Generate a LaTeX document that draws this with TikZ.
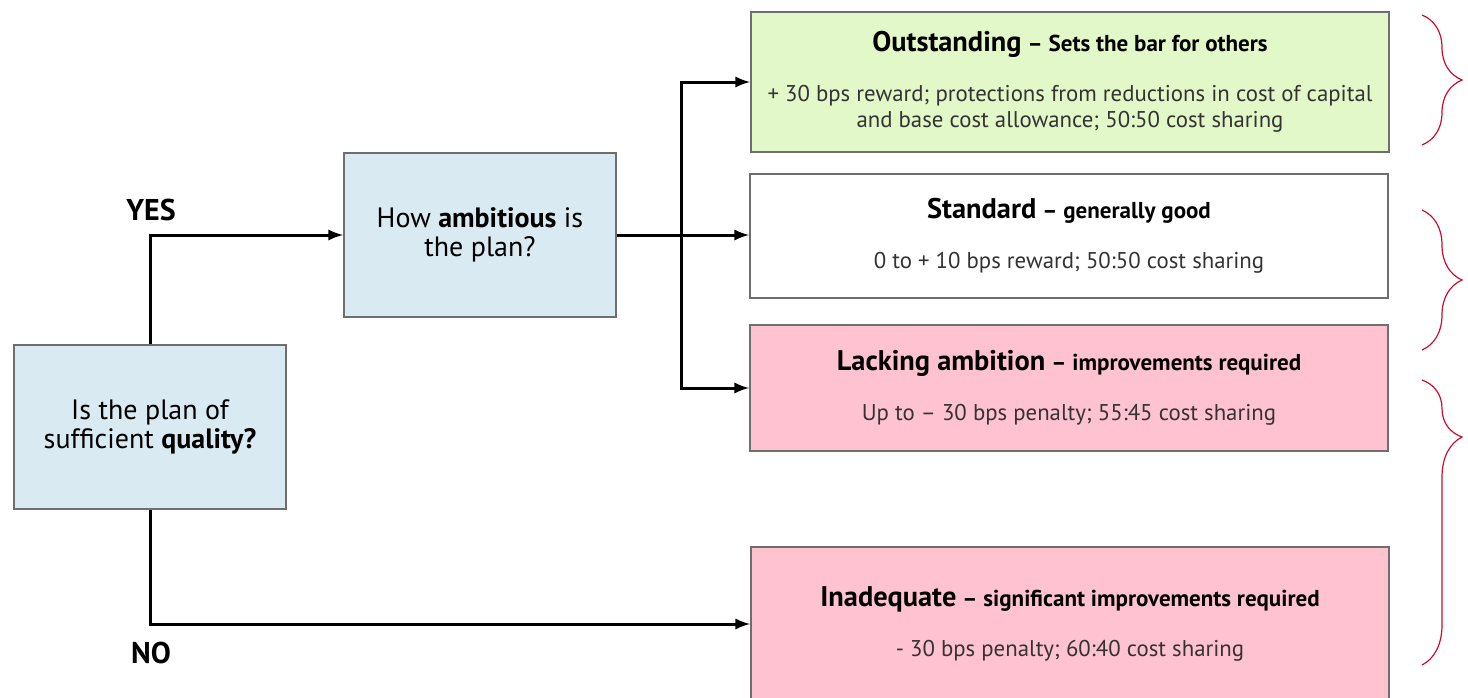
\documentclass[tikz,border=0pt]{standalone}
\usepackage{fontspec}
\setmainfont{PT Sans}
\usetikzlibrary{decorations.pathreplacing}

\definecolor{qblue}{HTML}{DAEAF3}
\definecolor{rgreen}{HTML}{E2F8C8}
\definecolor{rpink}{HTML}{FFC2D0}
\definecolor{edgegray}{HTML}{6E6E6E}
\definecolor{bodygray}{HTML}{333333}
\definecolor{bracered}{HTML}{C8102E}

\tikzset{
  question/.style={draw=edgegray, line width=1pt, fill=qblue, minimum width=136pt,
    minimum height=82pt, align=center, anchor=west, font=\fontsize{14}{14.5}\selectfont},
  result/.style={draw=edgegray, line width=1pt, minimum width=319pt, align=center,
    anchor=west, font=\fontsize{11.4}{13}\selectfont},
  answer/.style={font=\fontsize{15}{16}\selectfont\bfseries},
  bracket/.style={draw=bracered, line width=0.6pt, decorate,
    decoration={brace, amplitude=20pt}},
}
\newcommand{\headline}[2]{{\fontsize{14.2}{14}\selectfont\bfseries #1} {\fontsize{11.5}{14}\selectfont\bfseries -- #2}}
\newcommand{\detail}[1]{\textcolor{bodygray}{#1}}

\begin{document}
\begin{tikzpicture}[x=0.5pt,y=-0.5pt,->,>=latex,line width=1.5pt]

\useasboundingbox (0,0) rectangle (1468,697);
\clip (0,0) rectangle (1468,697);

\node (quality) at (13,427) [question] {Is the plan of\\sufficient \textbf{quality?}};
\node (ambition) at (343,235) [question] {How \textbf{ambitious} is\\the plan?};

\node (outstanding) at (750,82) [result, fill=rgreen, minimum height=70pt]
  {\headline{Outstanding}{Sets the bar for others}\\[12pt]
   \detail{+ 30 bps reward; protections from reductions in cost of capital}\\
   \detail{and base cost allowance; 50:50 cost sharing}};

\node (standard) at (749,236) [result, fill=white, minimum height=62pt]
  {\headline{Standard}{generally good}\\[12pt]
   \detail{0 to + 10 bps reward; 50:50 cost sharing}};

\node (lacking) at (749,388) [result, fill=rpink, minimum height=63pt]
  {\headline{Lacking ambition}{improvements required}\\[12pt]
   \detail{Up to -- 30 bps penalty; 55:45 cost sharing}};

\node (inadequate) at (750,624) [result, fill=rpink, minimum height=77pt]
  {\headline{Inadequate}{significant improvements required}\\[12pt]
   \detail{- 30 bps penalty; 60:40 cost sharing}};

\coordinate (fork) at (681,235);

\draw (quality.north) |- (ambition.west);
\draw (quality.south) |- (inadequate.west);
\draw (ambition.east) -- (ambition.east -| standard.west);
\draw (fork) |- (outstanding.west);
\draw (fork) |- (lacking.west);

\node (yes) at (151,210) [answer] {YES};
\node (no) at (151,653) [answer] {NO};

% red brackets on the right
\draw [-,bracket] (1422,15) -- (1422,145);
\draw [-,bracket] (1422,210) -- (1422,350);
\draw [-,bracket, decoration={brace, amplitude=20pt, aspect=0.2}] (1422,380) -- (1422,665);

\end{tikzpicture}
\end{document}
